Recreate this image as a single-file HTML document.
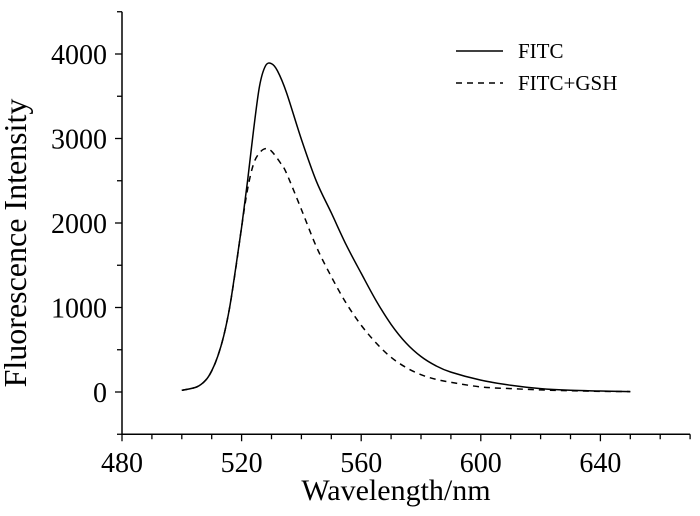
<!DOCTYPE html>
<html><head><meta charset="utf-8"><style>
html,body{margin:0;padding:0;background:#fff;}
svg{display:block;font-family:"Liberation Serif",serif;}
</style></head><body>
<svg id="chart" width="700" height="516" viewBox="0 0 700 516" xmlns="http://www.w3.org/2000/svg">
<g id="axes"></g>
<g id="series"></g>
<g>
  <line x1="456" y1="51" x2="503" y2="51" stroke="#000" stroke-width="1.5"/>
  <text x="518" y="58" font-size="21">FITC</text>
  <line x1="456" y1="83" x2="503" y2="83" stroke="#000" stroke-width="1.5" stroke-dasharray="6,5"/>
  <text x="518" y="90" font-size="21">FITC+GSH</text>
</g>
<text x="396" y="500" font-size="30" text-anchor="middle">Wavelength/nm</text>
<text transform="translate(26,243) rotate(-90)" font-size="32" text-anchor="middle">Fluorescence Intensity</text>
</svg>
<script>
const wavelengths = [500,505,508,510,512,514,516,518,520,522,524,526,528,530,532,535,540,545,550,555,560,565,570,575,580,585,590,600,610,620,630,640,650];
const fitcValues = [20,60,140,250,420,660,1000,1460,1950,2500,3100,3620,3860,3885,3800,3545,2990,2495,2120,1740,1405,1080,800,580,420,310,235,140,80,40,20,12,5];
const gshWavelengths = [500,505,508,510,512,514,516,518,520,522,524,526,528,530,533,535,540,545,550,555,560,565,570,575,580,585,590,600,610,620,630,640,650];
const gshValues = [20,60,140,250,420,660,1000,1450,1950,2400,2700,2830,2880,2850,2710,2590,2160,1720,1365,1050,790,580,410,290,205,150,115,60,40,25,15,8,5];
const xTickLabels = [480,520,560,600,640];
const yTickLabels = [0,1000,2000,3000,4000];

const X0=122, XPX=2.99, XMIN=480, XMAX=670;
const Y0=392, YPX=0.0845, YMIN=-500, YMAX=4500;
function xs(v){return X0+(v-XMIN)*XPX;}
function ys(v){return Y0-v*YPX;}
const NS="http://www.w3.org/2000/svg";
function mk(tag,attrs,parent){const e=document.createElementNS(NS,tag);for(const k in attrs)e.setAttribute(k,attrs[k]);parent.appendChild(e);return e;}
const axes=document.getElementById('axes');
const yb=ys(YMIN), yt=ys(YMAX), xr=xs(XMAX);
let l=mk('line',{x1:X0,y1:yb,x2:xr,y2:yb,stroke:'#000','stroke-width':1.5},axes);


l=mk('line',{x1:X0,y1:yb,x2:X0,y2:yt,stroke:'#000','stroke-width':1.5},axes);


for(let v=XMIN;v<=XMAX;v+=10){
  const major=(v-XMIN)%40===0;
  const t=mk('line',{x1:xs(v),y1:yb,x2:xs(v),y2:yb+(major?7:5),stroke:'#000','stroke-width':1.3},axes);
  
  
}
xTickLabels.forEach(v=>{
  const t=mk('text',{x:xs(v),y:472,'font-size':28,'text-anchor':'middle'},axes);
  t.textContent=v;
  
  
});
for(let v=YMIN;v<=YMAX;v+=500){
  const major=v%1000===0;
  const t=mk('line',{x1:X0,y1:ys(v),x2:X0-(major?7:5),y2:ys(v),stroke:'#000','stroke-width':1.3},axes);
  
  
}
yTickLabels.forEach(v=>{
  const t=mk('text',{x:107,y:ys(v)+10,'font-size':28,'text-anchor':'end'},axes);
  t.textContent=v;
  
  
});
function smoothPath(xa,ya){
  const p=xa.map((x,i)=>[xs(x),ys(ya[i])]);
  let d='M'+p[0][0]+','+p[0][1];
  for(let i=0;i<p.length-1;i++){
    const p0=p[i-1]||p[i],p1=p[i],p2=p[i+1],p3=p[i+2]||p2;
    const c1=[p1[0]+(p2[0]-p0[0])/6,p1[1]+(p2[1]-p0[1])/6];
    const c2=[p2[0]-(p3[0]-p1[0])/6,p2[1]-(p3[1]-p1[1])/6];
    d+=' C'+c1[0]+','+c1[1]+' '+c2[0]+','+c2[1]+' '+p2[0]+','+p2[1];
  }
  return d;
}
const series=document.getElementById('series');
const s1=mk('path',{d:smoothPath(wavelengths,fitcValues),fill:'none',stroke:'#000','stroke-width':1.5},series);


const s2=mk('path',{d:smoothPath(gshWavelengths,gshValues),fill:'none',stroke:'#000','stroke-width':1.5,'stroke-dasharray':'6,5'},series);


</script>
</body></html>
